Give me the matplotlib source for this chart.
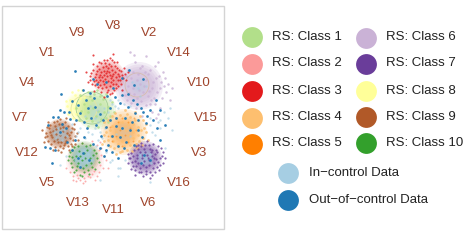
import numpy as np
import matplotlib
matplotlib.use("Agg")
import matplotlib.pyplot as plt

plt.rcParams["font.family"] = ["Liberation Sans", "DejaVu Sans"]

# variables, clockwise from the top of the ring
variables = ["V8", "V2", "V14", "V10", "V15", "V3", "V16", "V6",
             "V11", "V13", "V5", "V12", "V7", "V4", "V1", "V9"]

class_names = ["RS: Class 1", "RS: Class 2", "RS: Class 3", "RS: Class 4", "RS: Class 5",
               "RS: Class 6", "RS: Class 7", "RS: Class 8", "RS: Class 9", "RS: Class 10"]
class_colors = ["#b2df8a", "#fb9a99", "#e31a1c", "#fdbf6f", "#ff7f00",
                "#cab2d6", "#6a3d9a", "#ffff99", "#b15928", "#33a02c"]
in_color = "#a6cee3"
out_color = "#1f78b4"

# cluster centres and radii
blob_x = [96, 85, 108, 124, 124, 139, 145, 80, 60, 84]
blob_y = [110, 161, 77, 132, 132, 86, 158, 107, 134, 157]
blob_r = [20, 19, 17, 23, 15, 24, 17, 15, 15, 16]
blob_a = [.17, .10, .11, .19, .05, .22, .16, .17, .18, .10]

# in-control mass sitting on top of the clusters
core_x = [60, 84, 145, 124, 139, 96]
core_y = [134, 157, 158, 132, 86, 112]
core_r = [10, 12, 9, 10, 9, 10]
core_a = [.10, .16, .09, .03, .04, .05]

red_pts = [(93,70),(97,66),(101,72),(105,63),(108,68),(112,60),(115,66),(119,70),(122,75),(118,80),
           (113,74),(107,76),(100,80),(95,77),(92,84),(98,87),(104,84),(110,86),(116,88),(121,84),
           (124,68),(110,58),(103,67),(96,74),(90,76),(113,80),(107,92),(101,92),(117,62),(93,64),
           (109,72),(105,79),(100,75),(115,72),(111,78),(119,76),(104,71),(98,82),(112,93),(126,80),
           (86,72),(88,82),(113,54),(107,60),(122,90),(94,91),(104,97),(128,72),(93,55),(116,84),
           (99,69),(102,77),(106,73),(110,75),(112,70),(108,81),(103,81),(96,80),(100,85),(106,87),
           (113,84),(118,74),(116,77),(120,80),(121,71),(111,66),(106,66),(101,63),(97,71),(94,81),
           (109,64),(114,62),(107,71),(104,75),(111,82),(117,68),(99,77),(102,88),(108,90),(114,90),
           (91,73),(90,80),(123,78),(125,74),(95,85),(110,94),(104,60),(99,62),(118,86),(112,76)]
lilac_pts = [(128,70),(135,62),(142,66),(150,70),(156,78),(160,88),(154,98),(146,105),(136,108),(127,100),
             (122,90),(131,78),(138,74),(146,80),(152,88),(143,92),(134,94),(128,86),(140,84),(148,96),
             (163,72),(158,62),(146,56),(134,55),(166,92),(160,108),(152,112),(142,116),(130,52),(168,84),
             (155,66),(137,98),(145,72),(126,76),(150,104),(162,98),(170,100),(172,88),(156,118),(165,78),
             (133,72),(140,68),(148,74),(153,82),(157,92),(151,100),(141,101),(131,103),(125,95),(133,88),
             (137,80),(144,86),(149,91),(139,90),(129,93),(159,76),(161,82),(164,86),(155,104),(158,114)]
green_pts = [(80,95),(88,92),(97,90),(106,94),(112,102),(114,112),(108,122),(98,127),(88,126),(79,120),
             (92,100),(100,104),(104,112),(96,116),(88,112),(84,104),(76,108),(100,96),(110,116),(92,121),
             (94,94),(103,99),(108,107),(101,119),(93,108),(86,118),(81,111),(98,111),(106,118),(90,96)]
yellow_pts = [(70,100),(75,95),(82,90),(70,110),(73,118),(67,106),(78,103),(76,114),(84,97),(72,92),
              (78,90),(66,101),(68,114),(74,108),(80,98)]
orange_pts = [(108,120),(115,113),(125,110),(135,112),(143,120),(146,132),(142,145),(132,151),(120,152),(110,146),
              (104,135),(112,126),(122,122),(133,124),(138,135),(128,140),(117,138),(110,130),(126,130),(119,128),
              (136,144),(114,148),(106,127),(143,138),(124,146),(130,117),(138,127),(116,118),(121,135),(133,132),
              (108,140),(102,144),(146,124),(128,124),(118,144),(112,116),(120,115),(127,114),(140,116),(104,122),
              (106,132),(113,141),(122,141),(130,145),(139,141),(141,130),(135,120),(125,126),(116,132),(128,135),
              (122,151),(116,154),(104,141),(144,128),(111,136),(133,138),(119,122),(137,148),(127,150),(148,140)]
orange2_pts = [(118,122),(128,122),(136,130),(133,141),(122,146),(112,141),(110,127),(125,135),(120,130),(130,128),
               (116,136),(128,142),(122,118),(134,118),(108,136)]
purple_pts = [(134,150),(141,146),(149,145),(156,150),(160,158),(157,167),(150,172),(141,172),(133,166),(130,158),
              (137,155),(145,152),(152,156),(154,163),(146,167),(138,163),(142,158),(149,160),(135,170),(158,146),
              (147,141),(163,163),(128,163),(143,176),(155,172),(163,152),(136,146),(152,150),(131,153),(159,170),
              (138,149),(144,149),(150,149),(155,154),(158,162),(153,168),(146,171),(140,168),(135,161),(133,156),
              (140,152),(147,155),(151,152),(156,159),(149,165),(143,165),(137,158),(132,162),(139,172),(146,174),
              (152,175),(129,158),(160,165),(162,156),(141,143),(153,144),(128,154),(135,175),(165,158),(150,178),
              (144,161),(148,158),(142,155),(136,166),(154,158),(157,152),(131,169),(161,148),(145,145),(138,145)]
brown_pts = [(50,125),(57,121),(65,122),(72,128),(75,136),(71,144),(63,148),(55,147),(48,141),(46,133),
             (53,131),(60,128),(67,133),(66,141),(58,142),(52,137),(60,135),(70,138),(49,128),(74,129),
             (61,152),(55,126),(64,145),(45,137),(77,133),(54,122),(62,124),(68,126),(71,132),(73,140),
             (68,146),(60,146),(51,144),(47,136),(50,132),(56,134),(63,131),(65,137),(57,139),(61,142),
             (48,122),(78,140),(42,130),(58,150),(69,150),(53,150),(44,142),(74,124),(60,119),(66,118),
             (63,127),(69,135),(54,141),(56,129),(72,146),(47,127),(75,144),(59,124),(65,143),(51,135)]
green2_pts = [(72,150),(78,146),(86,146),(94,150),(97,158),(92,167),(84,172),(76,170),(71,163),(69,156),
              (76,156),(84,153),(90,158),(86,165),(78,163),(82,160),(74,172),(80,175),(88,170),(68,160),
              (74,147),(82,143),(90,145),(96,153),(99,162),(95,169),(89,174),(82,176),(72,167),(70,152),
              (74,160),(79,151),(87,150),(93,155),(91,163),(83,168),(77,166),(72,157),(85,158),(80,156)]
pink_pts = [(77,175),(84,178),(92,174),(100,165),(101,155),(97,145),(80,180),(90,177),(73,176),(99,172),
            (106,160),(82,143),(70,172),(95,180),(101,148),(85,181),(78,178),(88,176),(94,171),(103,168),
            (99,150),(104,156),(76,181),(66,168),(92,141),(97,176),(83,183),(108,168),(73,180),(100,142)]

# pale in-control readings around and inside the clusters
in_pts = [(60,134),(56,138),(64,130),(62,140),(67,136),(54,132),(83,158),(79,154),(88,154),(87,162),
          (80,165),(90,150),(75,160),(92,160),(84,150),(146,158),(142,162),(150,154),(140,155),(151,163),
          (97,110),(90,106),(104,108),(95,118),(85,116),(122,128),(130,136),(116,134),(125,118),(138,88),
          (132,82),(146,86),(140,96),(110,100),(118,100),(124,104),(115,106),(100,132),(98,140),(92,134),
          (106,152),(112,160),(125,160),(168,118),(160,128),(155,135),(170,108),(150,125),(78,132),(85,138),
          (72,124),(80,128),(120,168),(118,176),(100,180),(150,182),(165,148),(172,130),(66,156),(60,165),
          (95,128),(105,128),(88,132),(98,122),(108,112),(112,104),(118,108),(130,106),(150,118),(160,120),
          (96,146),(102,138),(76,136),(70,130),(152,132),(158,122),(164,112),(110,162),(118,168),(58,128)]

# out-of-control readings
out_pts = [(75,71),(61,94),(60,110),(64,112),(58,117),(53,117),(48,125),(62,124),(69,112),(72,101),
           (83,90),(90,93),(86,100),(94,98),(88,108),(80,113),(78,105),(95,107),(100,114),(91,118),
           (84,122),(76,120),(87,128),(96,125),(103,120),(110,108),(107,96),(115,97),(120,103),(128,94),
           (133,100),(137,104),(141,108),(128,107),(122,95),(135,113),(143,112),(147,116),(150,110),(146,123),
           (153,120),(138,120),(132,122),(125,118),(116,118),(110,120),(106,127),(116,126),(122,128),(130,130),
           (138,130),(142,137),(120,137),(112,136),(126,142),(118,146),(108,145),(112,152),(106,150),(118,158),
           (124,148),(134,145),(100,148),(93,144),(84,137),(75,140),(72,150),(67,142),(55,150),(50,148),
           (45,147),(52,163),(83,153),(78,158),(89,160),(80,167),(144,155),(141,163),(150,160),(60,132),
           (66,128),(113,88),(106,82),(97,84),(134,85),(143,79),(122,78),(129,70),(93,79),(160,110),
           (156,100),(165,125),(160,140),(101,136),(157,128),(70,119),(104,156)]

# faint density rings
ring_x = [84, 92, 137]
ring_y = [109, 108, 85]
ring_r = [13, 16, 12]
ring_c = ["#e6e6a0", "#a5cf95", "#d5bcae"]


def scatter_pts(ax, pts, color, size=2.2, alpha=.8):
    xs, ys = zip(*pts)
    ax.scatter(xs, ys, s=size, color=color, alpha=alpha, linewidths=0)


fig = plt.figure(figsize=(4.67, 2.46), dpi=100)
ax = fig.add_axes([0, 0, 1, 1])
ax.set_xlim(0, 467)
ax.set_ylim(246, 0)
ax.axis("off")

ax.add_patch(plt.Rectangle((1.5, 6), 222.5, 223, fill=False, edgecolor="#d4d4d4", linewidth=1))

order = [7, 0, 5, 3, 4, 1, 9, 2, 6, 8]
for i in order:
    for frac in [1.0, .9, .8, .7, .6]:
        ax.add_patch(plt.Circle((blob_x[i], blob_y[i]), blob_r[i] * frac, color=class_colors[i],
                                alpha=blob_a[i], linewidth=0))
for cx, cy, cr, ca in zip(core_x, core_y, core_r, core_a):
    for frac in [1.0, .85, .7, .55]:
        ax.add_patch(plt.Circle((cx, cy), cr * frac, color=in_color, alpha=ca * 2, linewidth=0))
for cx, cy, cr, cc in zip(ring_x, ring_y, ring_r, ring_c):
    ax.add_patch(plt.Circle((cx, cy), cr, fill=False, edgecolor=cc, linewidth=.6))

scatter_pts(ax, yellow_pts, class_colors[7], 3.5)
scatter_pts(ax, green_pts, class_colors[0], 3.5)
scatter_pts(ax, lilac_pts, class_colors[5], 3.2)
scatter_pts(ax, orange_pts, class_colors[3], 4)
scatter_pts(ax, orange2_pts, class_colors[4], 1.8, .5)
scatter_pts(ax, pink_pts, class_colors[1], 2)
scatter_pts(ax, red_pts, class_colors[2], 2.4)
scatter_pts(ax, purple_pts, class_colors[6], 2.6)
scatter_pts(ax, brown_pts, class_colors[8], 2.8)
scatter_pts(ax, green2_pts, class_colors[9], 2.4)
scatter_pts(ax, in_pts, in_color, 3, .65)
scatter_pts(ax, out_pts, out_color, 3.8, .95)

# labels sit evenly on a ring
angles = np.arange(len(variables)) * 2 * np.pi / len(variables)
for name, ang in zip(variables, angles):
    ax.text(113 + 93 * np.sin(ang), 118 - 92 * np.cos(ang), name, color="#a0452c",
            fontsize=9.6, ha="center", va="center")

# legend
rows_left = [36.5, 63.5, 90.5, 117.5, 143.5]
rows_right = [37.5, 63.5, 90.5, 116.5, 142.5]
for i, name in enumerate(class_names):
    mx, tx, y = (251.5, 272.5, rows_left[i]) if i < 5 else (365.5, 386, rows_right[i - 5])
    ax.plot(mx, y, "o", ms=15, mew=0, color=class_colors[i])
    ax.text(tx, y, name, fontsize=9.5, color="#222222", ha="left", va="center")

for name, col, y in [("In\u2212control Data", in_color, 173), ("Out\u2212of\u2212control Data", out_color, 200)]:
    ax.plot(288, y, "o", ms=15, mew=0, color=col)
    ax.text(309, y, name, fontsize=9.5, color="#222222", ha="left", va="center")

fig.savefig("out.png", dpi=100)
